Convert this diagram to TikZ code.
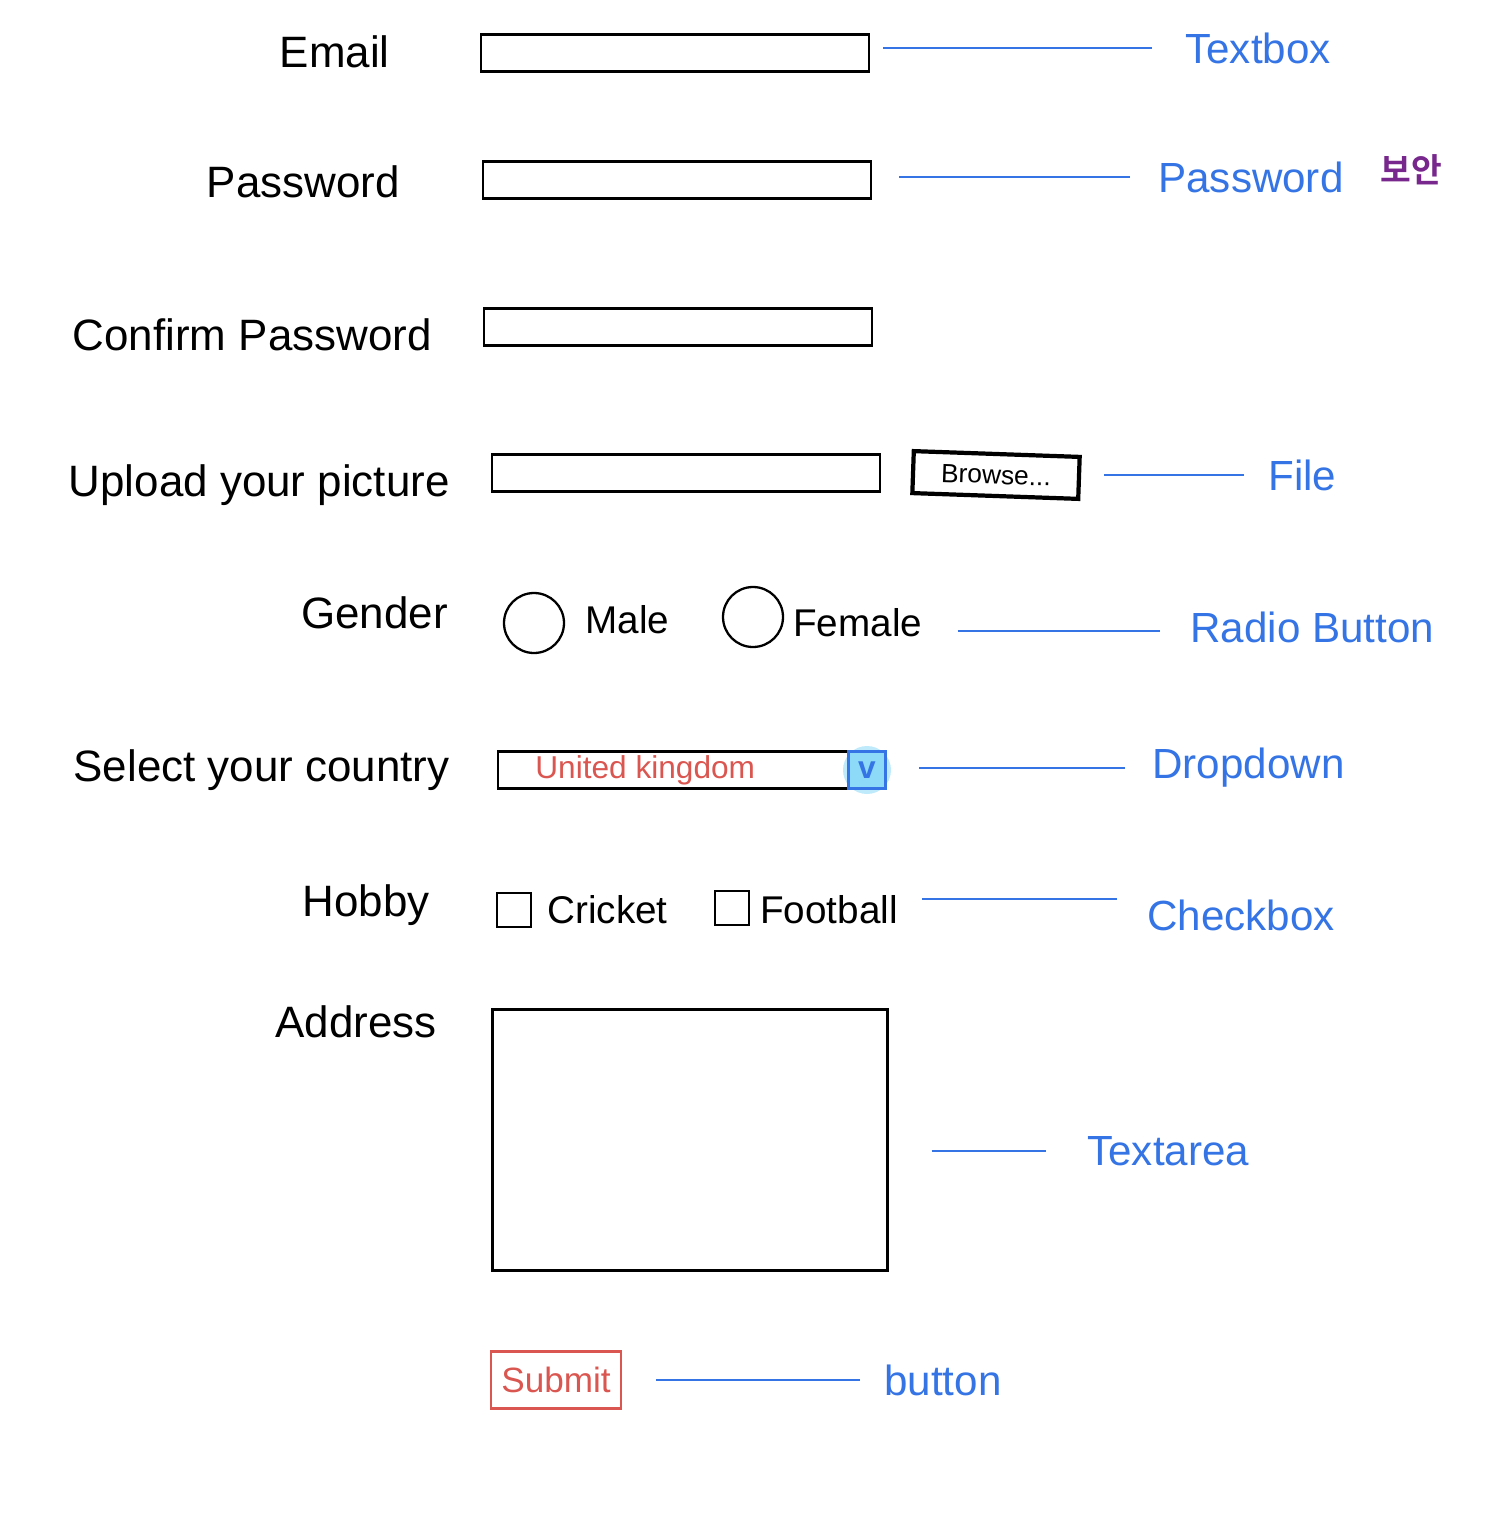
\documentclass[tikz,border=0pt]{standalone}
\usepackage{fontspec}
\setmainfont{Liberation Sans}
\newfontfamily\krfont{Noto Sans CJK KR}[BoldFont={Noto Sans CJK KR Bold}]
\usepackage{tikz}

\definecolor{noteblue}{RGB}{52,116,228}
\definecolor{formred}{RGB}{218,86,80}
\definecolor{notepurple}{RGB}{120,40,140}

\begin{document}
\begin{tikzpicture}[
  x=0.02cm,
  y=-0.02cm,
  field/.style={
      rectangle,
      draw,
      line width=1.3pt,
      minimum width=7.76cm,
      minimum height=0.74cm,
      inner sep=0pt
  },
  lbl/.style={
      anchor=east,
      inner sep=0pt,
      font=\fontsize{25}{30}\selectfont
  },
  option/.style={
      anchor=west,
      inner sep=0pt,
      font=\fontsize{22}{26}\selectfont
  },
  note/.style={
      anchor=west,
      inner sep=0pt,
      text=noteblue,
      font=\fontsize{24}{28}\selectfont
  },
  radio/.style={
      circle,
      draw,
      line width=1.3pt,
      minimum size=1.2cm,
      inner sep=0pt
  },
  tick/.style={
      rectangle,
      draw,
      line width=1.3pt,
      minimum size=0.68cm,
      inner sep=0pt
  },
  link/.style={
      noteblue,
      line width=1.5pt
  }
]

\useasboundingbox (0,0) rectangle (1510,1537);

% ==================================================
% Email
% ==================================================

\node[lbl] (emaillbl) at (390,52) {Email};
\node[field] (emailbox) at (675,53) {};
\node[note] (textbox) at (1185,48) {Textbox};

\draw[link, shorten <=0.26cm, shorten >=0.66cm]
(textbox.west -| emailbox.east) -- (textbox.west);

% ==================================================
% Password
% ==================================================

\node[lbl] (passlbl) at (400,182) {Password};
\node[field] (passbox) at (677,180) {};
\node[note] (password) at (1158,177) {Password};
\node[
    anchor=west,
    inner sep=0pt,
    text=notepurple,
    font=\krfont\bfseries\fontsize{19}{22}\selectfont
] (secure) at (1380,170) {보안};

\draw[link, shorten <=0.54cm, shorten >=0.56cm]
(password.west -| passbox.east) -- (password.west);

% ==================================================
% Confirm Password
% ==================================================

\node[lbl] (conflbl) at (432,335) {Confirm Password};
\node[field] (confbox) at (678,327) {};

% ==================================================
% Upload
% ==================================================

\node[lbl] (uploadlbl) at (450,485) {Upload your picture};
\node[field] (uploadbox) at (686,473) {};
\node[
    rectangle,
    draw,
    line width=2.4pt,
    rotate=-2,
    minimum width=3.32cm,
    minimum height=0.84cm,
    font=\fontsize{15}{18}\selectfont
] (browse) at (996,475) {Browse...};
\node[note] (file) at (1268,475) {File};

\draw[link, shorten <=0.46cm, shorten >=0.48cm]
(file.west -| browse.east) -- (file.west);

% ==================================================
% Gender
% ==================================================

\node[lbl] (genderlbl) at (448,613) {Gender};
\node[radio] (male) at (534,623) {};
\node[option] (maletxt) at (585,620) {Male};
\node[radio] (female) at (753,617) {};
\node[option] (femaletxt) at (793,623) {Female};
\node[note] (radiobtn) at (1190,627) {Radio Button};

\draw[link, shorten <=0.7cm, shorten >=0.6cm]
([yshift=-0.08cm]radiobtn.west -| femaletxt.east)
-- ([yshift=-0.08cm]radiobtn.west);

% ==================================================
% Country
% ==================================================

\node[lbl] (countrylbl) at (450,770) {Select your country};
\node[field] (countrybox) at (692,770) {};
\node[
    anchor=west,
    inner sep=0pt,
    text=formred,
    font=\fontsize{18}{22}\selectfont
] (uk) at (535,770) {United kingdom};
\fill[cyan!25] (867,770) circle (24);
\node[
    rectangle,
    draw=noteblue,
    line width=1.3pt,
    fill=cyan!45,
    minimum size=0.74cm,
    inner sep=0pt,
    text=noteblue,
    font=\bfseries\fontsize{18}{20}\selectfont
] (arrowbtn) at (867,770) {v};
\node[note] (dropdown) at (1152,768) {Dropdown};

\draw[link, shorten <=0.64cm, shorten >=0.54cm]
(dropdown.west -| countrybox.east) -- (dropdown.west);

% ==================================================
% Hobby
% ==================================================

\node[lbl] (hobbylbl) at (430,905) {Hobby};
\node[tick] (cricketbox) at (514,910) {};
\node[option] (crickettxt) at (547,910) {Cricket};
\node[tick] (footballbox) at (732,908) {};
\node[option] (footballtxt) at (760,910) {Football};
\node[note] (checkbox) at (1147,915) {Checkbox};

\draw[link, shorten <=0.48cm, shorten >=0.6cm]
([yshift=0.22cm]footballtxt.east)
-- ([yshift=0.22cm]footballtxt.east -| checkbox.west);

% ==================================================
% Address
% ==================================================

\node[lbl] (addresslbl) at (437,1022) {Address};
\node[
    field,
    minimum width=7.9cm,
    minimum height=5.22cm
] (addressbox) at (690,1140) {};
\node[note] (textarea) at (1087,1151) {Textarea};

\draw[link, shorten <=0.86cm, shorten >=0.82cm]
(textarea.west -| addressbox.east) -- (textarea.west);

% ==================================================
% Submit
% ==================================================

\node[
    rectangle,
    draw=formred,
    line width=1.3pt,
    text=formred,
    minimum width=2.6cm,
    minimum height=1.14cm,
    font=\fontsize{20}{24}\selectfont
] (submit) at (556,1380) {Submit};
\node[note] (button) at (884,1380) {button};

\draw[link, shorten <=0.68cm, shorten >=0.48cm]
(button.west -| submit.east) -- (button.west);

\end{tikzpicture}
\end{document}
